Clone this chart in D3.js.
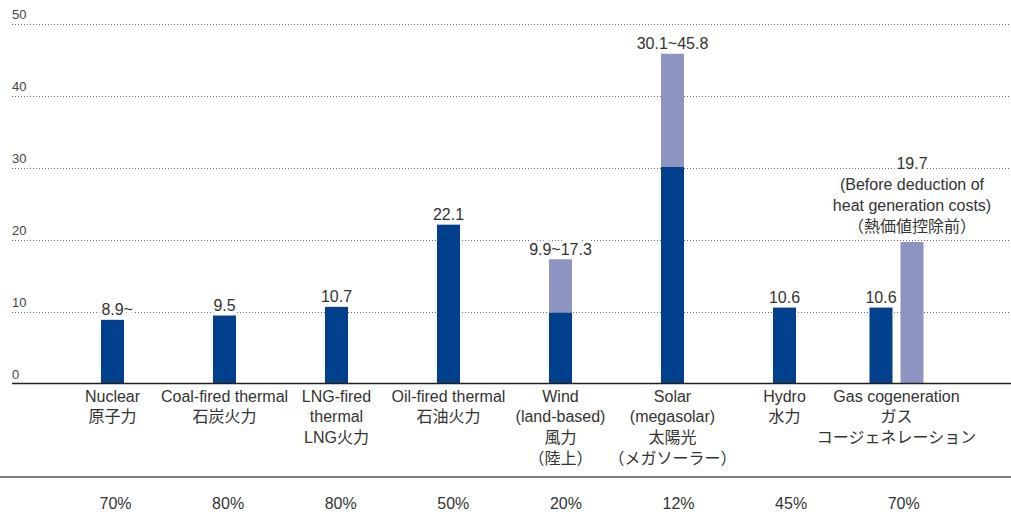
<!DOCTYPE html>
<html>
<head>
<meta charset="utf-8">
<script src="https://cdn.jsdelivr.net/npm/d3@7"></script>
<style>
  html, body { margin: 0; padding: 0; background: #fff; }
  svg { display: block; }
  text { font-family: "Liberation Sans", Arial, "Noto Sans CJK JP", sans-serif; fill: #333; }
</style>
</head>
<body>
<script>
// chart values
const categories = ["Nuclear", "Coal", "LNG", "Oil", "Wind", "Solar", "Hydro", "Gas"];
const categoryLines = [
    ["Nuclear", "原子力"],
    ["Coal-fired thermal", "石炭火力"],
    ["LNG-fired", "thermal", "LNG火力"],
    ["Oil-fired thermal", "石油火力"],
    ["Wind", "(land-based)", "風力", "（陸上）"],
    ["Solar", "(megasolar)", "太陽光", "（メガソーラー）"],
    ["Hydro", "水力"],
    ["Gas cogeneration", "ガス", "コージェネレーション"]
];
const lowValues  = [8.9, 9.5, 10.7, 22.1, 9.9, 30.1, 10.6, 10.6];
const highValues = [null, null, null, null, 17.3, 45.8, null, null];
const valueLabels = ["8.9", "9.5", "10.7", "22.1", "9.9~17.3", "30.1~45.8", "10.6", "10.6"];
const labelSuffix = ["~", "", "", "", "", "", "", ""];
const gasHeatValue = 19.7;
const gasHeatLines = ["19.7", "(Before deduction of", "heat generation costs)", "（熱価値控除前）"];
const capacityFactors = ["70%", "80%", "80%", "50%", "20%", "12%", "45%", "70%"];
const yTicks = [0, 10, 20, 30, 40, 50];

const width = 1011, height = 524;
const darkBlue = "#00408c", lightBlue = "#8d94c2";

const svg = d3.select("body").append("svg")
    .attr("width", width)
    .attr("height", height);

const x = d3.scaleBand()
    .domain(categories)
    .range([56.5, 952.5])
    .paddingInner(1 - 23 / 112)
    .paddingOuter((1 - 23 / 112) / 2);

// columns of the capacity factor row sit slightly to the right
const xTable = d3.scaleBand()
    .domain(categories)
    .range([59.2, 960]);

// gas cogeneration has two bars side by side
const xGas = d3.scaleBand()
    .domain(["own", "heat"])
    .range([-27, 27])
    .paddingInner(0.258);

const y = d3.scaleLinear()
    .domain([0, 50])
    .range([384, 23.5]);

const center = c => x(c) + x.bandwidth() / 2;

// gridlines
const grid = svg.append("g").attr("class", "grid");
grid.selectAll("line")
    .data(yTicks.filter(t => t > 0))
    .enter().append("line")
    .attr("x1", 12).attr("x2", width)
    .attr("y1", d => Math.round(y(d)) + 0.5)
    .attr("y2", d => Math.round(y(d)) + 0.5)
    .attr("stroke", "#666")
    .attr("stroke-width", 1)
    .attr("stroke-dasharray", "1,2");

grid.selectAll("text")
    .data(yTicks)
    .enter().append("text")
    .attr("x", 12)
    .attr("y", d => y(d) - (d === 0 ? 5 : 5))
    .style("font-size", "13px")
    .style("fill", "#444")
    .text(d => d);

// bars
const bars = svg.append("g").attr("class", "bars");
const barX = (c, i) => c === "Gas" ? center(c) + xGas("own") : x(c);
const barW = (c) => c === "Gas" ? xGas.bandwidth() : x.bandwidth();

bars.selectAll("rect.high")
    .data(categories.filter((c, i) => highValues[i] != null))
    .enter().append("rect")
    .attr("class", "high")
    .attr("x", c => x(c))
    .attr("width", x.bandwidth())
    .attr("y", c => y(highValues[categories.indexOf(c)]))
    .attr("height", c => y(lowValues[categories.indexOf(c)]) - y(highValues[categories.indexOf(c)]))
    .attr("fill", lightBlue);

bars.selectAll("rect.low")
    .data(categories)
    .enter().append("rect")
    .attr("class", "low")
    .attr("x", (c, i) => barX(c, i))
    .attr("width", c => barW(c))
    .attr("y", (c, i) => y(lowValues[i]))
    .attr("height", (c, i) => y(0) - y(lowValues[i]))
    .attr("fill", darkBlue);

bars.append("rect")
    .attr("x", center("Gas") + xGas("heat"))
    .attr("width", xGas.bandwidth())
    .attr("y", y(gasHeatValue))
    .attr("height", y(0) - y(gasHeatValue))
    .attr("fill", lightBlue);

// value labels with white halo that breaks the gridlines
const labels = svg.append("g").attr("class", "labels")
    .style("font-size", "16px");

labels.selectAll("text")
    .data(categories)
    .enter().append("text")
    .attr("text-anchor", "start")
    .attr("y", (c, i) => y(highValues[i] != null ? highValues[i] : lowValues[i]) - 4.5)
    .attr("stroke", "#fff")
    .attr("stroke-width", 6)
    .attr("paint-order", "stroke")
    .text((c, i) => valueLabels[i] + labelSuffix[i])
    .each(function (c, i) {
        const t = d3.select(this);
        t.text(valueLabels[i]);
        const w = this.getComputedTextLength();
        t.text(valueLabels[i] + labelSuffix[i]);
        const cx = c === "Gas" ? center(c) + xGas("own") + xGas.bandwidth() / 2 : center(c);
        t.attr("x", cx - w / 2);
    });

const heatCx = center("Gas") + xGas("heat") + xGas.bandwidth() / 2;
labels.append("text")
    .attr("text-anchor", "middle")
    .attr("stroke", "#fff")
    .attr("stroke-width", 6)
    .attr("paint-order", "stroke")
    .selectAll("tspan")
    .data(gasHeatLines)
    .enter().append("tspan")
    .attr("x", heatCx)
    .attr("y", (d, i) => y(gasHeatValue) - 72.5 + i * 21)
    .text(d => d);

// axis line and table rule
svg.append("line")
    .attr("x1", 12).attr("x2", width)
    .attr("y1", y(0) - 0.5).attr("y2", y(0) - 0.5)
    .attr("stroke", "#222")
    .attr("stroke-width", 1.3);

svg.append("line")
    .attr("x1", 0).attr("x2", width)
    .attr("y1", 477).attr("y2", 477)
    .attr("stroke", "#555")
    .attr("stroke-width", 1.5);

// category labels
const catG = svg.append("g").style("font-size", "16px");
catG.selectAll("text")
    .data(categories)
    .enter().append("text")
    .attr("text-anchor", "middle")
    .each(function (c, i) {
        d3.select(this).selectAll("tspan")
            .data(categoryLines[i])
            .enter().append("tspan")
            .attr("x", center(c))
            .attr("y", (d, j) => y(0) + 17.5 + j * 20.7)
            .text(d => d);
    });

// capacity factor row
svg.append("g").style("font-size", "16px")
    .selectAll("text")
    .data(categories)
    .enter().append("text")
    .attr("text-anchor", "middle")
    .attr("x", c => xTable(c) + xTable.bandwidth() / 2)
    .attr("y", 509)
    .text((c, i) => capacityFactors[i]);
</script>
</body>
</html>
